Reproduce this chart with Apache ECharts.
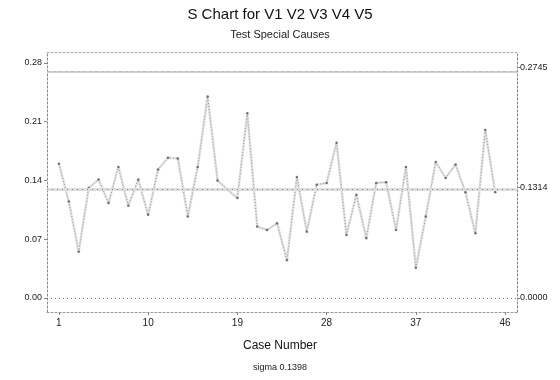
<!DOCTYPE html>
<html>
<head>
<meta charset="utf-8">
<script src="https://cdn.jsdelivr.net/npm/echarts@6/dist/echarts.min.js"></script>
<style>html,body{margin:0;padding:0;background:#fff}#c{width:560px;height:380px}</style>
</head>
<body>
<div id="c"></div>
<script>
var caseNumbers = [1,2,3,4,5,6,7,8,9,10,11,12,13,14,15,16,17,18,19,20,21,22,23,24,25,26,27,28,29,30,31,32,33,34,35,36,37,38,39,40,41,42,43,44,45];
var sValues = [0.160,0.115,0.055,0.131,0.141,0.113,0.156,0.110,0.141,0.099,0.153,0.167,0.166,0.097,0.156,0.240,0.140,0.129,0.119,0.220,0.085,0.081,0.089,0.045,0.144,0.079,0.135,0.137,0.185,0.075,0.123,0.071,0.137,0.138,0.081,0.156,0.036,0.097,0.162,0.143,0.159,0.126,0.077,0.200,0.126];
var xTicks = [1,10,19,28,37,46];
var yTicks = [0,0.07,0.14,0.21,0.28];
var UCL = 0.2745, CL = 0.1314, LCL = 0.0;
var sigma = 0.1398;
var limitTicks = [LCL, CL, UCL];

var pts = caseNumbers.map(function(c,i){return [c, sValues[i]];});
var font = 'Liberation Sans, Arial, sans-serif';
var chart = echarts.init(document.getElementById('c'), null, {renderer:'canvas'});
chart.setOption({
  animation:false,
  backgroundColor:'#fff',
  title:[
    {text:'S Chart for V1 V2 V3 V4 V5', left:'center', top:2, textStyle:{fontFamily:font, fontSize:15, fontWeight:'normal', color:'#111'}},
    {text:'Test Special Causes', left:'center', top:24, textStyle:{fontFamily:font, fontSize:11, fontWeight:'normal', color:'#222'}},
    {text:'Case Number', left:'center', top:335, textStyle:{fontFamily:font, fontSize:12, fontWeight:'normal', color:'#111'}},
    {text:'sigma ' + sigma.toFixed(4), left:'center', top:358, textStyle:{fontFamily:font, fontSize:9, fontWeight:'normal', color:'#222'}}
  ],
  grid:{left:47, right:43, top:52, bottom:68, containLabel:false},
  xAxis:[
    {type:'value', position:'bottom', min:-0.2, max:47.2,
     axisLine:{show:true, onZero:false, lineStyle:{color:'#999', type:[2,2]}},
     axisTick:{show:true, customValues:xTicks, length:3, lineStyle:{color:'#888'}},
     axisLabel:{customValues:xTicks, fontFamily:font, fontSize:10, color:'#222', margin:6},
     splitLine:{show:false}},
    {type:'value', position:'top', min:-0.2, max:47.2,
     axisLine:{show:true, onZero:false, lineStyle:{color:'#aaa', type:[2,2]}},
     axisTick:{show:false}, axisLabel:{show:false}, splitLine:{show:false}}
  ],
  yAxis:[
    {type:'value', position:'left', min:-0.0167, max:0.293,
     axisLine:{show:true, onZero:false, lineStyle:{color:'#888', type:[2,2]}},
     axisTick:{show:true, customValues:yTicks, length:3, lineStyle:{color:'#888'}},
     axisLabel:{customValues:yTicks, formatter:function(v){return v.toFixed(2);}, fontFamily:font, fontSize:9, color:'#222', margin:5},
     splitLine:{show:false}},
    {type:'value', position:'right', min:-0.0167, max:0.293,
     axisLine:{show:true, onZero:false, lineStyle:{color:'#888', type:[2,2]}},
     axisTick:{show:true, customValues:limitTicks, length:3, lineStyle:{color:'#888'}},
     axisLabel:{customValues:limitTicks, formatter:function(v){return v.toFixed(4);}, fontFamily:font, fontSize:9, color:'#222', margin:3},
     splitLine:{show:false}}
  ],
  series:[
    {type:'line', data:pts, symbol:'none', silent:true, z:1,
     lineStyle:{color:'#e2e2e2', width:2.5},
     markLine:{silent:true, symbol:'none', label:{show:false}, data:[
       {yAxis:UCL, lineStyle:{color:'#cfcfcf', width:2, type:'solid'}},
       {yAxis:CL, lineStyle:{color:'#dedede', width:3, type:'solid'}},
       {yAxis:LCL, lineStyle:{color:'#777', width:1, type:[1,3]}}
     ]}},
    {type:'line', data:pts, symbol:'none', silent:true, z:2,
     lineStyle:{color:'#777', width:0.7, type:[1,2]},
     markLine:{silent:true, symbol:'none', label:{show:false}, data:[
       {yAxis:CL, lineStyle:{color:'#888', width:1, type:[1,4]}},
       {yAxis:UCL, lineStyle:{color:'#b0b0b0', width:0.6, type:[3,3]}}
     ]}},
    {type:'scatter', data:pts, symbol:'circle', symbolSize:2.5, z:3, silent:true,
     itemStyle:{color:'#555'}}
  ]
});
</script>
</body>
</html>
